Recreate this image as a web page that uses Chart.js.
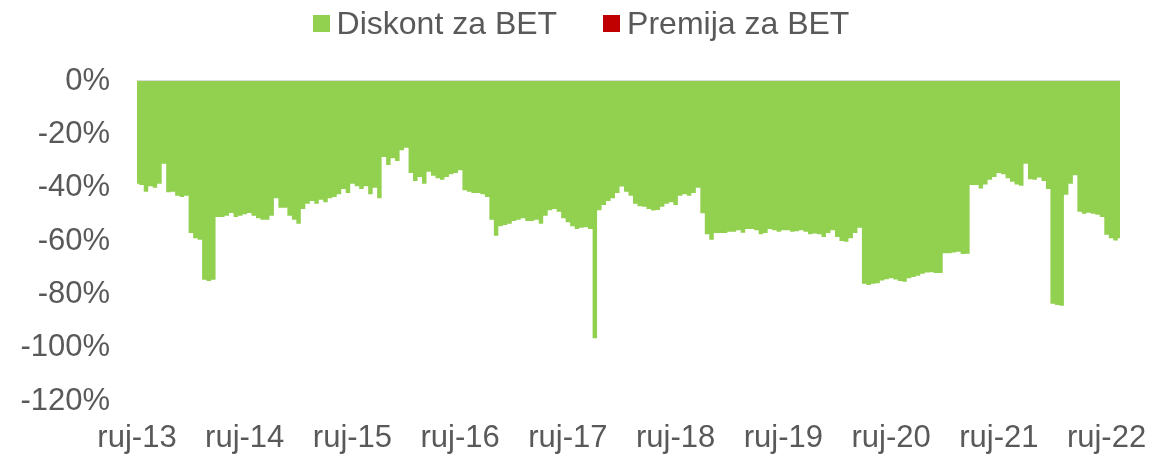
<!DOCTYPE html>
<html>
<head>
<meta charset="utf-8">
<script src="https://cdn.jsdelivr.net/npm/chart.js@4"></script>
<style>
  body { margin: 0; background: #fff; }
  #wrap { position: relative; width: 1150px; height: 456px; }
  #legenda { position: absolute; left: 0; top: 0; width: 1150px; height: 46px; box-sizing: border-box; padding-left: 12px;
             display: flex; justify-content: center; align-items: center;
             font-family: "Liberation Sans", Arial, sans-serif; font-size: 32px; color: #595959; white-space: nowrap; }
  #legenda .stavka { display: flex; align-items: center; }
  #legenda .stavka + .stavka { margin-left: 46px; }
  #legenda .kocka { width: 17px; height: 17px; margin-right: 7px; }
</style>
</head>
<body>
<div id="wrap"><canvas id="grafikon"></canvas><div id="legenda"></div></div>
<script>
// polumjesecne vrijednosti, rujan -> kolovoz
var god13 = [-38.5,-39,-41.5,-39.5,-40,-38.5,-31,-41.7,-41.5,-43,-43.5,-43,-57,-59,-59.5,-74.5,-75,-74.5,-51,-51,-50.5,-49.5,-51,-50.5];
var god14 = [-50,-49.5,-50.5,-51.5,-52,-52,-50.5,-44,-47.5,-47.5,-50.5,-52,-53.5,-48,-46,-45,-46,-44.5,-45.5,-44,-43.5,-42.5,-40.5,-42];
var god15 = [-38.5,-39.5,-40.5,-39.5,-42.5,-40,-44,-28.5,-31.5,-29,-30,-26,-25,-34.5,-37.5,-36,-38.5,-34,-35.5,-36.5,-37,-36,-35,-34.5];
var god16 = [-33.5,-41,-41.5,-42,-42,-42.5,-43.5,-52,-58,-54.5,-54,-53.5,-52.5,-52,-51.5,-52.5,-52.5,-52,-53.5,-50.5,-48.5,-48,-49,-51.5];
var god17 = [-53,-54.5,-55.5,-55,-54.8,-55.5,-96.5,-48.5,-46.5,-45,-44,-42,-39.6,-41.5,-43,-46,-47,-47.2,-48,-48.6,-48.4,-47.2,-46,-45.5];
var god18 = [-46.5,-43,-42.5,-43,-42,-40,-49.6,-57.5,-59.5,-57,-57,-57,-56.5,-56.5,-56,-56.9,-55.5,-55.5,-56,-57.5,-57,-55.5,-56,-56.5];
var god19 = [-56,-56,-56.5,-56.3,-56,-56.5,-57.5,-57.2,-57.5,-58.5,-57,-56,-58.5,-60,-60.3,-59,-57,-55,-76,-76.5,-76,-75.8,-74.8,-74.3];
var god20 = [-74,-74.4,-75,-75.3,-74,-73.5,-73,-72.3,-71.8,-71.7,-72,-72,-64.6,-64.6,-64.3,-64,-64.9,-64.8,-39,-39,-40.3,-38.8,-37,-36];
var god21 = [-34.5,-35,-36.5,-37.8,-38.8,-39.3,-31,-36.8,-37,-36.2,-37.5,-40.5,-83.5,-84,-84.3,-42.7,-38.5,-35.3,-49,-49.8,-49.4,-49.8,-50.2,-51];
var god22 = [-57.7,-59,-59.8,-59];

var oznakeGodina = ['ruj-13','ruj-14','ruj-15','ruj-16','ruj-17','ruj-18','ruj-19','ruj-20','ruj-21','ruj-22'];
var yTicks = [0,-20,-40,-60,-80,-100,-120];

var diskont = [].concat(god13, god14, god15, god16, god17, god18, god19, god20, god21, god22);
// premije nije bilo u cijelom razdoblju
var premija = diskont.map(function(){ return 0; });

var labele = [];
for (var i = 0; i < diskont.length; i++) {
    labele.push(i % 24 === 0 ? oznakeGodina[i / 24] : '');
}

var font = {family: '"Liberation Sans", Arial, sans-serif', size: 31};
var siva = '#595959';

var datosChart = {
    labels: labele,
    datasets: [{
        label: 'Diskont za BET',
        data: diskont,
        backgroundColor: '#92d050',
        borderColor: '#92d050',
        borderWidth: 0,
        pointRadius: 0,
        fill: 'origin',
        stepped: 'middle'
    }, {
        label: 'Premija za BET',
        data: premija,
        backgroundColor: '#c00000',
        borderColor: '#c00000',
        borderWidth: 0,
        pointRadius: 0,
        fill: 'origin',
        stepped: 'middle'
    }]
};

var newChar = document.getElementById('grafikon');

var charGrafico = new Chart(newChar, {
    type: 'line',
    data: datosChart,
    options: {
        responsive: true,
        maintainAspectRatio: false,
        animation: false,
        layout: {padding: {left: 0, right: 30, top: 81, bottom: 0}},
        plugins: {
            tooltip: {enabled: false},
            legend: {display: false}
        },
        scales: {
            x: {
                grid: {display: false, drawTicks: false},
                border: {display: false},
                ticks: {
                    autoSkip: false,
                    maxRotation: 0,
                    minRotation: 0,
                    font: font,
                    color: siva,
                    padding: 19
                },
                afterFit: function(scale){ scale.height = 55; }
            },
            y: {
                min: -120,
                max: 0,
                afterBuildTicks: function(scale){
                    scale.ticks = yTicks.map(function(v){ return {value: v}; });
                },
                grid: {
                    drawTicks: false,
                    color: function(c){ return c.tick && c.tick.value === 0 ? '#d9d9d9' : 'rgba(0,0,0,0)'; },
                    lineWidth: 2
                },
                border: {display: false},
                ticks: {
                    font: font,
                    color: siva,
                    padding: 27,
                    callback: function(v){ return v + '%'; }
                },
                afterFit: function(scale){ scale.width = 137; }
            }
        }
    }
});

// legenda iz datasetova
var legenda = document.getElementById('legenda');
charGrafico.data.datasets.forEach(function(ds){
    var stavka = document.createElement('div');
    stavka.className = 'stavka';
    var kocka = document.createElement('span');
    kocka.className = 'kocka';
    kocka.style.background = ds.backgroundColor;
    stavka.appendChild(kocka);
    stavka.appendChild(document.createTextNode(ds.label));
    legenda.appendChild(stavka);
});
</script>
</body>
</html>
